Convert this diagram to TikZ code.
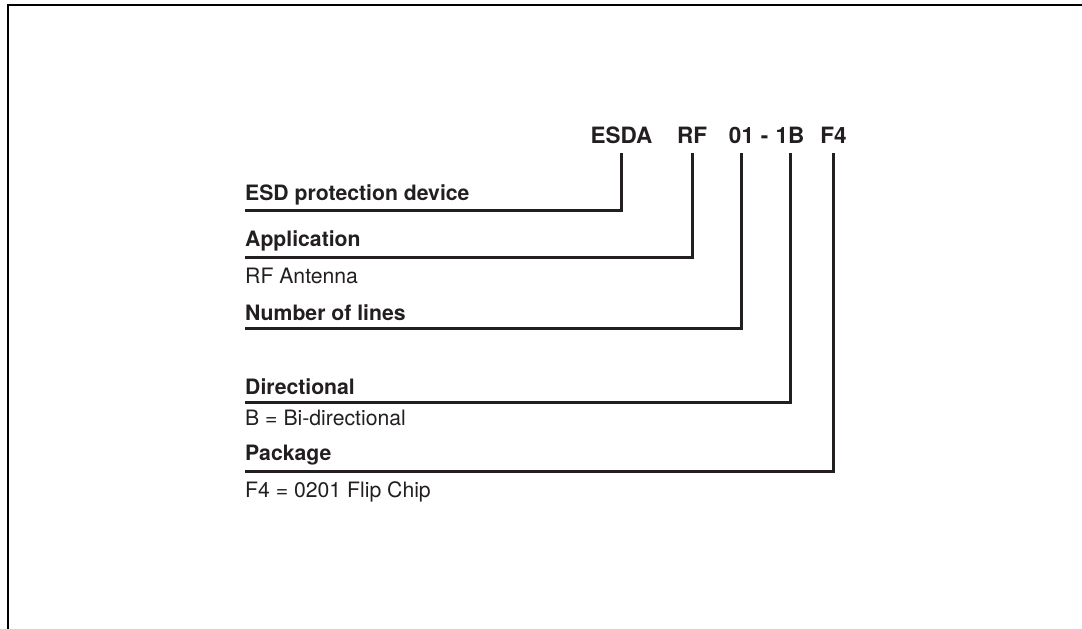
\documentclass[tikz,border=0pt]{standalone}
\usepackage{fontspec}
\setmainfont{TeX Gyre Heros}
\usetikzlibrary{positioning}
\definecolor{inkgray}{RGB}{35,31,32}

\begin{document}
\begin{tikzpicture}[
        x=1pt, y=-1pt,
        every node/.style={inner sep=0pt, text=inkgray},
        code/.style={anchor=base, font=\fontsize{22.5}{26}\selectfont\bfseries},
        field/.style={anchor=base west, font=\fontsize{21.2}{25}\selectfont\bfseries},
        note/.style={anchor=base west, font=\fontsize{21.2}{25}\selectfont},
        leader/.style={draw=inkgray, line width=3pt}
    ]
        \useasboundingbox (0,0) rectangle (1082,629);
        \draw[line width=2.5pt] (1082,5) -- (8,5) -- (8,629);

        % order code
        \node[code] (esda) at (621.5,143) {ESDA};
        \node[code] (rf) at (692,143) {RF};
        \node[code] (n01) at (741.5,143) {01};
        \node[code] (dash) at (764.5,143) {-};
        \node[code] (n1B) at (790,143) {1B};
        \node[code] (f4) at (833.5,143) {F4};

        % fields
        \node[field] (esd) at (245,200) {ESD protection device};
        \node[field] (app) at (245,246) {Application};
        \node[note] (rfant) at (245,283) {RF Antenna};
        \node[field] (lines) at (245,320) {Number of lines};
        \node[field] (dir) at (245,394) {Directional};
        \node[note] (bidir) at (245,425) {B = Bi-directional};
        \node[field] (pkg) at (245,460) {Package};
        \node[note] (flip) at (245,497) {F4 = 0201 Flip Chip};

        \coordinate (esdend) at (245,210);
        \coordinate (append) at (245,257);
        \coordinate (linesend) at (245,328);
        \coordinate (dirend) at (245,402);
        \coordinate (pkgend) at (245,471);

        \foreach \c/\e in {esda/esdend, rf/append, n01/linesend, n1B/dirend, f4/pkgend}
            \draw[leader] ([yshift=-10pt]\c.south) |- (\e);
    \end{tikzpicture}
\end{document}
